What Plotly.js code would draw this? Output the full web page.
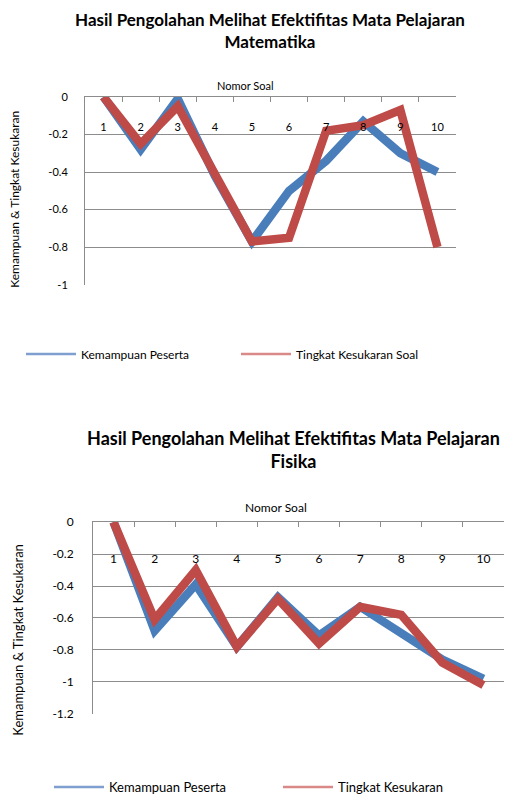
<!DOCTYPE html>
<html>
<head>
<meta charset="utf-8">
<script src="https://cdn.plot.ly/plotly-3.0.1.min.js"></script>
<style>html,body{margin:0;padding:0;background:#fff;}#chart{width:507px;height:802px;}</style>
</head>
<body>
<div id="chart"></div>
<script>
const categories = ['1','2','3','4','5','6','7','8','9','10'];
const mathKemampuan = [0, -0.28, -0.01, -0.42, -0.77, -0.50, -0.34, -0.13, -0.30, -0.40];
const mathKesukaran = [0, -0.25, -0.05, -0.41, -0.77, -0.75, -0.18, -0.15, -0.07, -0.80];
const fisKemampuan = [0, -0.68, -0.39, -0.78, -0.47, -0.71, -0.53, -0.70, -0.86, -0.98];
const fisKesukaran = [0, -0.61, -0.30, -0.78, -0.48, -0.76, -0.53, -0.58, -0.88, -1.02];
const mathTickVals = [0, -0.2, -0.4, -0.6, -0.8, -1];
const mathTickText = ['0', '-0.2', '-0.4', '-0.6', '-0.8', '-1'];
const fisTickVals = [0, -0.2, -0.4, -0.6, -0.8, -1, -1.2];
const fisTickText = ['0', '-0.2', '-0.4', '-0.6', '-0.8', '-1', '-1.2'];
const seriesNames = ['Kemampuan Peserta', 'Tingkat Kesukaran Soal'];
const seriesNames2 = ['Kemampuan Peserta', 'Tingkat Kesukaran'];
const title1 = ['Hasil Pengolahan Melihat Efektifitas Mata Pelajaran', 'Matematika'];
const title2 = ['Hasil Pengolahan Melihat Efektifitas Mata Pelajaran', 'Fisika'];
const xTitle = 'Nomor Soal';
const yTitle = 'Kemampuan & Tingkat Kesukaran';

const FONT = 'Lato, "Liberation Sans", sans-serif';
const BLUE = '#4a7ebb', RED = '#be4b48';
const BLUE_L = '#7f9fd0', RED_L = '#d98a88';
const GRID = '#8c8c8c';
const catIdx = categories.map((c, i) => i);
const catRange = [-0.5, categories.length - 0.5];

const traces = [
  {x: categories, y: mathKemampuan, xaxis: 'x', yaxis: 'y', type: 'scatter', mode: 'lines',
   line: {color: BLUE, width: 8.5}, showlegend: false, name: seriesNames[0]},
  {x: categories, y: mathKesukaran, xaxis: 'x', yaxis: 'y', type: 'scatter', mode: 'lines',
   line: {color: RED, width: 8.5}, showlegend: false, name: seriesNames[1]},
  {x: categories, y: fisKemampuan, xaxis: 'x2', yaxis: 'y2', type: 'scatter', mode: 'lines',
   line: {color: BLUE, width: 8.5}, showlegend: false, name: seriesNames2[0]},
  {x: categories, y: fisKesukaran, xaxis: 'x2', yaxis: 'y2', type: 'scatter', mode: 'lines',
   line: {color: RED, width: 8.5}, showlegend: false, name: seriesNames2[1]},
  // legend entries (no data points)
  {x: [null], y: [null], xaxis: 'x3', yaxis: 'y', type: 'scatter', mode: 'lines',
   line: {color: BLUE_L, width: 2.5}, name: seriesNames[0], legend: 'legend'},
  {x: [null], y: [null], xaxis: 'x3', yaxis: 'y', type: 'scatter', mode: 'lines',
   line: {color: RED_L, width: 2.5}, name: seriesNames[1], legend: 'legend'},
  {x: [null], y: [null], xaxis: 'x4', yaxis: 'y2', type: 'scatter', mode: 'lines',
   line: {color: BLUE_L, width: 2.5}, name: seriesNames2[0], legend: 'legend2'},
  {x: [null], y: [null], xaxis: 'x4', yaxis: 'y2', type: 'scatter', mode: 'lines',
   line: {color: RED_L, width: 2.5}, name: seriesNames2[1], legend: 'legend2'}
];

const W = 507, H = 802;
const px = v => v / W, py = v => 1 - v / H;

function xAxisDef(domain, anchor) {
  return {
    domain: domain, anchor: anchor, side: 'top', type: 'category',
    categoryarray: categories, categoryorder: 'array', range: catRange,
    showline: true, linecolor: GRID, linewidth: 1,
    ticks: 'inside', tickson: 'boundaries', ticklen: 5, tickcolor: GRID,
    showticklabels: false,
    showgrid: false, zeroline: false, fixedrange: true
  };
}
function xLabelAxisDef(domain, overlay, pos, size) {
  return {
    domain: domain, overlaying: overlay, anchor: 'free', position: pos, side: 'bottom',
    type: 'linear', range: catRange, tickvals: catIdx, ticktext: categories,
    showline: false, ticks: '', showgrid: false, zeroline: false,
    tickfont: {family: FONT, size: size, color: '#000'}, fixedrange: true
  };
}
function yAxisDef(domain, anchor, range, vals, text, standoff, size) {
  return {
    domain: domain, anchor: anchor, range: range,
    tickvals: vals, ticktext: text,
    showline: true, linecolor: GRID, linewidth: 1,
    showgrid: true, gridcolor: GRID, gridwidth: 1, zeroline: false,
    ticks: '', ticklabelstandoff: standoff,
    tickfont: {family: FONT, size: size, color: '#000'}, fixedrange: true
  };
}
function titleAnn(lines, x, y, size) {
  return {text: lines.map(s => '<b>' + s + '</b>').join('<br>'), xref: 'paper', yref: 'paper',
    x: px(x), y: py(y), xanchor: 'center', yanchor: 'middle', showarrow: false,
    font: {family: FONT, size: size, color: '#000'}};
}
function textAnn(text, x, y, size, angle) {
  return {text: text, xref: 'paper', yref: 'paper', x: px(x), y: py(y),
    xanchor: 'center', yanchor: 'middle', textangle: angle, showarrow: false,
    font: {family: FONT, size: size, color: '#000'}};
}

const layout = {
  width: W, height: H,
  margin: {l: 0, r: 0, t: 0, b: 0},
  paper_bgcolor: '#fff', plot_bgcolor: '#fff',
  font: {family: FONT, color: '#000'},
  xaxis: xAxisDef([px(85), px(456)], 'y'),
  yaxis: yAxisDef([py(288), py(98)], 'x', [-1, 0], mathTickVals, mathTickText, 14, 11),
  xaxis2: xAxisDef([px(93), px(504)], 'y2'),
  yaxis2: yAxisDef([py(722), py(528)], 'x2', [-1.2, 0], fisTickVals, fisTickText, 16, 12),
  xaxis3: xLabelAxisDef([px(85), px(456)], 'x', py(120), 11),
  xaxis4: xLabelAxisDef([px(93), px(504)], 'x2', py(556), 12),
  legend: {
    orientation: 'h', x: px(21), y: py(358), xanchor: 'left', yanchor: 'middle',
    itemwidth: 50, entrywidth: 150, entrywidthmode: 'pixels',
    font: {family: FONT, size: 12, color: '#000'}, bgcolor: 'rgba(0,0,0,0)'
  },
  legend2: {
    orientation: 'h', x: px(53), y: py(796), xanchor: 'left', yanchor: 'middle',
    itemwidth: 50, entrywidth: 164, entrywidthmode: 'pixels',
    font: {family: FONT, size: 13, color: '#000'}, bgcolor: 'rgba(0,0,0,0)'
  },
  annotations: [
    titleAnn(title1, 270, 31, 17),
    titleAnn(title2, 293, 455, 18),
    textAnn(xTitle, 245, 86, 11, 0),
    textAnn(xTitle, 276, 513, 12, 0),
    textAnn(yTitle, 15, 202, 12, -90),
    textAnn(yTitle, 18, 647, 13, -90)
  ]
};

Plotly.newPlot('chart', traces, layout, {staticPlot: true, displayModeBar: false});
</script>
</body>
</html>
